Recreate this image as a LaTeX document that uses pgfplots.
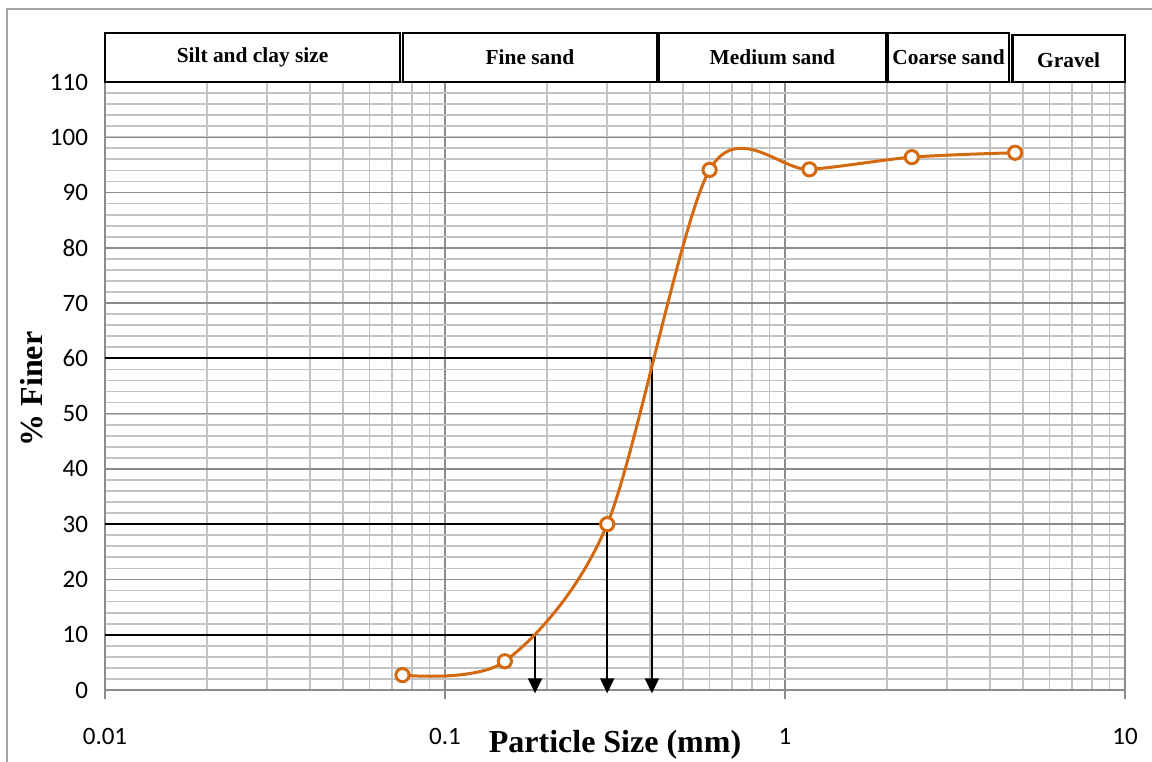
\documentclass[border=0pt]{standalone}
\usepackage{fontspec}
\setmainfont{Liberation Serif}
\newfontfamily\calibri{Carlito}
\usepackage{pgfplots}
\pgfplotsset{compat=1.18}
\usetikzlibrary{arrows.meta}
\definecolor{curve}{RGB}{212,106,16}
\definecolor{majgrid}{RGB}{140,140,140}
\definecolor{mingrid}{RGB}{195,195,195}
\definecolor{frame}{RGB}{165,165,165}
\begin{document}
\begin{tikzpicture}[x=1bp,y=1bp]
\useasboundingbox (0,0) rectangle (576,380.5);
\draw[frame,line width=1.2bp] (3.5,-10) -- (3.5,376) -- (590,376);
\begin{axis}[
  at={(52.5bp,35.5bp)}, anchor=south west,
  scale only axis, width=510bp, height=304bp,
  xmode=log, xmin=0.01, xmax=10, ymin=0, ymax=110,
  log basis x=10,
  xtick={0.01,0.1,1,10}, xticklabels={0.01,0.1,1,10},
  ytick={0,10,...,110},
  minor ytick={2,4,...,108},
  minor xtick={0.02,0.03,0.04,0.05,0.06,0.07,0.08,0.09,0.2,0.3,0.4,0.5,0.6,0.7,0.8,0.9,2,3,4,5,6,7,8,9},
  grid=both,
  major grid style={majgrid,line width=0.7bp},
  minor grid style={mingrid,line width=0.9bp},
  axis line style={majgrid,line width=0.8bp},
  tick pos=left,
  x tick style={majgrid,line width=0.8bp},
  xtick align=outside, major tick length=4.5bp, minor tick length=0bp,
  y tick style={draw=none},
  /pgf/number format/assume math mode=true,
  ticklabel style={font=\calibri\fontsize{12.5bp}{14bp}\selectfont},
  xticklabel style={yshift=-11bp},
  yticklabel style={xshift=-5bp},
  xlabel={Particle Size (mm)},
  ylabel={\% Finer},
  label style={font=\bfseries\fontsize{16bp}{19bp}\selectfont},
  xlabel style={at={(axis description cs:0.5,-0.0895)}, anchor=center},
  ylabel style={at={(axis description cs:-0.0716,0.495)}, anchor=center},
  clip=false,
]
% classification boxes
\begin{scope}[line width=1.3bp, font=\bfseries\fontsize{10.7bp}{12bp}\selectfont]
\draw (axis cs:0.01,110) rectangle (axis cs:0.0738,118.9) node[midway] {Silt and clay size};
\draw (axis cs:0.0752,110) rectangle (axis cs:0.42,118.9) node[midway] {Fine sand};
\draw (axis cs:0.426,110) rectangle (axis cs:1.98,118.9) node[midway] {Medium sand};
\draw (axis cs:2.01,110) rectangle (axis cs:4.56,118.9) node[midway] {Coarse sand};
\draw (axis cs:4.66,110) rectangle (axis cs:10,118.5) node[midway, yshift=-0.8bp] {Gravel};
\end{scope}
% D10, D30, D60 construction lines
\addplot[black, line width=1bp] coordinates {(0.01,10) (0.184,10)};
\addplot[black, line width=1bp] coordinates {(0.01,30) (0.30,30)};
\addplot[black, line width=1bp] coordinates {(0.01,60) (0.406,60)};
\addplot[black, line width=1bp, -{Triangle[length=7.5bp,width=7bp]}] coordinates {(0.184,10) (0.184,-0.6)};
\addplot[black, line width=1bp, -{Triangle[length=7.5bp,width=7bp]}] coordinates {(0.30,30) (0.30,-0.6)};
\addplot[black, line width=1bp, -{Triangle[length=7.5bp,width=7bp]}] coordinates {(0.406,60) (0.406,-0.6)};
% gradation curve
\addplot[curve, line width=1.5bp, smooth, tension=0.5, mark=*, mark size=3.3bp,
  mark options={fill=white, draw=curve, line width=1.5bp}] coordinates {
  (0.075,2.7) (0.15,5.2) (0.3,30.0) (0.6,94.1) (1.18,94.2) (2.36,96.4) (4.75,97.2)
};
\end{axis}
\end{tikzpicture}
\end{document}
